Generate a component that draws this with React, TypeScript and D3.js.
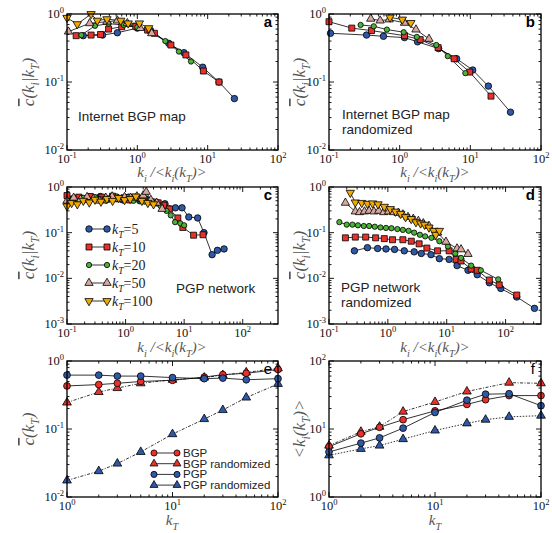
import React from "react";
import * as d3 from "d3";

// ---------------- data ----------------
// Panel a: Internet BGP map
const aBlueX = [0.17, 0.32, 0.52, 1.0, 1.55, 2.8, 4.6, 8.5, 14.5, 24];
const aBlueY = [0.48, 0.49, 0.53, 0.62, 0.57, 0.37, 0.27, 0.165, 0.1, 0.057];
const aRedX = [0.135, 0.22, 0.3, 0.39, 0.6, 0.95, 1.4, 1.75, 3.0, 4.9, 8.7, 14.5];
const aRedY = [0.48, 0.49, 0.5, 0.6, 0.65, 0.66, 0.58, 0.52, 0.35, 0.25, 0.145, 0.1];
const aGreenX = [0.16, 0.25, 0.39, 0.64, 1.0, 1.5, 2.5, 3.9, 5.8];
const aGreenY = [0.49, 0.67, 0.72, 0.69, 0.64, 0.55, 0.4, 0.28, 0.2];
const aPinkX = [0.105, 0.21, 0.37, 0.52, 0.72, 1.1, 1.6];
const aPinkY = [0.55, 0.73, 0.77, 0.8, 0.73, 0.62, 0.52];
const aOrangeX = [0.1, 0.14, 0.22, 0.27, 0.37, 0.58, 0.74, 1.07, 1.45];
const aOrangeY = [0.88, 0.71, 1.0, 0.8, 0.84, 0.8, 0.73, 0.73, 0.62];

// Panel b: Internet BGP map randomized
const bBlueX = [0.105, 0.34, 0.59, 1.17, 1.79, 3.56, 6.4, 10.8, 18, 37];
const bBlueY = [0.52, 0.49, 0.47, 0.45, 0.39, 0.31, 0.22, 0.15, 0.087, 0.036];
const bRedX = [0.1, 0.21, 0.4, 1.17, 1.95, 3.5, 5.9, 9.8, 19.6];
const bRedY = [0.77, 0.62, 0.57, 0.48, 0.42, 0.32, 0.22, 0.14, 0.062];
const bGreenX = [0.28, 0.43, 0.66, 1.14, 1.75, 3.3, 4.8, 8.5];
const bGreenY = [0.69, 0.66, 0.59, 0.54, 0.46, 0.35, 0.24, 0.135];
const bPinkX = [0.39, 0.53, 0.71, 1.17, 1.7, 2.6];
const bPinkY = [0.85, 0.8, 0.83, 0.74, 0.59, 0.43];
const bOrangeX = [0.73, 1.09, 1.44];
const bOrangeY = [0.89, 0.83, 0.74];

// Panel c: PGP network
const cBlueX = [0.12, 0.15, 0.19, 0.24, 0.3, 0.37, 0.46, 0.58, 0.72, 0.9, 1.12, 1.4, 1.75, 2.2, 2.75, 3.5, 4.7, 7.1, 9.2, 12, 17, 21.8, 30, 37, 48];
const cBlueY = [0.52, 0.58, 0.55, 0.6, 0.56, 0.62, 0.55, 0.6, 0.57, 0.52, 0.6, 0.56, 0.5, 0.55, 0.48, 0.45, 0.43, 0.35, 0.35, 0.22, 0.21, 0.1, 0.033, 0.041, 0.044];
const cRedX = [0.1, 0.13, 0.16, 0.2, 0.25, 0.31, 0.39, 0.48, 0.6, 0.75, 0.94, 1.17, 1.46, 1.83, 2.3, 2.9, 3.6, 4.5, 5.6, 7.8, 9.5, 14.5, 21];
const cRedY = [0.65, 0.55, 0.6, 0.53, 0.62, 0.57, 0.6, 0.54, 0.63, 0.55, 0.58, 0.52, 0.6, 0.55, 0.5, 0.47, 0.45, 0.4, 0.33, 0.21, 0.13, 0.088, 0.09];
const cGreenX = [0.1, 0.125, 0.155, 0.19, 0.24, 0.3, 0.37, 0.46, 0.57, 0.71, 0.88, 1.1, 1.37, 1.7, 2.1, 2.6, 3.2, 4.0, 5.0, 5.9, 7.0, 8.6, 10];
const cGreenY = [0.45, 0.55, 0.5, 0.58, 0.52, 0.6, 0.54, 0.5, 0.57, 0.62, 0.55, 0.6, 0.5, 0.56, 0.48, 0.52, 0.45, 0.38, 0.3, 0.24, 0.17, 0.16, 0.145];
const cPinkX = [0.1, 0.13, 0.17, 0.22, 0.28, 0.36, 0.46, 0.59, 0.75, 0.96, 1.22, 1.56, 2.0, 2.25, 2.7, 3.4, 4.2];
const cPinkY = [0.5, 0.58, 0.53, 0.6, 0.55, 0.5, 0.58, 0.62, 0.55, 0.6, 0.58, 0.62, 0.65, 0.78, 0.52, 0.45, 0.33];
const cOrangeX = [0.1, 0.12, 0.15, 0.19, 0.24, 0.3, 0.38, 0.48, 0.6, 0.76, 0.96, 1.2, 1.5, 1.9, 2.4, 3.0];
const cOrangeY = [0.38, 0.45, 0.42, 0.5, 0.46, 0.53, 0.48, 0.55, 0.5, 0.58, 0.52, 0.55, 0.62, 0.5, 0.45, 0.42];

// Panel d: PGP network randomized
const dOrangeX = [0.23, 0.28, 0.36, 0.45, 0.55, 0.68, 0.87, 1.1, 1.35, 1.65, 2.0, 2.5, 3.0, 3.6, 4.2, 5.0, 6.0, 6.5, 7.5];
const dOrangeY = [0.75, 0.46, 0.45, 0.43, 0.44, 0.42, 0.37, 0.33, 0.29, 0.26, 0.22, 0.2, 0.17, 0.16, 0.15, 0.13, 0.11, 0.09, 0.11];
const dPinkX = [0.19, 0.28, 0.33, 0.4, 0.48, 0.58, 0.7, 0.85, 1.03, 1.25, 1.5, 1.8, 2.2, 2.7, 3.3, 4.0, 5.0, 7.0, 9.7, 15, 17.5, 23];
const dPinkY = [0.45, 0.29, 0.28, 0.29, 0.3, 0.29, 0.3, 0.28, 0.29, 0.28, 0.27, 0.25, 0.22, 0.2, 0.18, 0.16, 0.14, 0.1, 0.063, 0.045, 0.043, 0.034];
const dGreenX = [0.15, 0.2, 0.25, 0.31, 0.39, 0.48, 0.6, 0.75, 0.93, 1.15, 1.45, 1.8, 2.25, 2.8, 3.5, 4.3, 5.5, 7.5, 10.5, 14, 17.5, 26, 38, 75];
const dGreenY = [0.17, 0.15, 0.15, 0.145, 0.14, 0.14, 0.135, 0.13, 0.127, 0.125, 0.12, 0.115, 0.11, 0.1, 0.09, 0.083, 0.077, 0.065, 0.05, 0.035, 0.028, 0.019, 0.015, 0.0095];
const dRedX = [0.19, 0.28, 0.42, 0.62, 0.87, 1.2, 1.8, 2.5, 3.4, 4.6, 7, 11, 14.5, 17.5, 26, 33, 53, 78, 155];
const dRedY = [0.077, 0.08, 0.08, 0.077, 0.074, 0.07, 0.07, 0.065, 0.057, 0.046, 0.04, 0.04, 0.026, 0.024, 0.016, 0.015, 0.0092, 0.0072, 0.0043];
const dBlueX = [0.27, 0.45, 0.67, 0.93, 1.3, 1.9, 2.8, 3.7, 5.4, 7.5, 11, 15, 23, 33, 53, 83, 155, 310];
const dBlueY = [0.04, 0.047, 0.045, 0.044, 0.043, 0.04, 0.038, 0.035, 0.033, 0.027, 0.026, 0.019, 0.015, 0.012, 0.008, 0.006, 0.0039, 0.0022];

// Panels e, f: vs k_T
const kT = [1, 2, 3, 5, 10, 20, 30, 50, 100];
const kTb = [1, 2, 3, 5, 10, 20, 50, 100];
const eBGP = [0.43, 0.45, 0.47, 0.5, 0.52, 0.58, 0.63, 0.66, 0.75];
const eBGPrand = [0.245, 0.35, 0.4, 0.47, 0.53, 0.57, 0.62, 0.68, 0.78];
const ePGP = [0.62, 0.62, 0.6, 0.6, 0.57, 0.55, 0.56, 0.53, 0.55];
const ePGPrand = [0.0175, 0.024, 0.031, 0.046, 0.084, 0.14, 0.19, 0.29, 0.46];
const fBGP = [5.5, 8.5, 10.6, 13.7, 18.5, 23, 27, 31, 31];
const fBGPrand = [5.7, 9.1, 10.8, 18, 25, 35.6, 48, 47];
const fPGP = [4.6, 6.2, 7.4, 10.3, 17.5, 26.5, 32.5, 33, 22];
const fPGPrand = [4.1, 5.1, 5.7, 7.1, 9.5, 12.1, 13.7, 15.1, 15.7];

const legendKT = ["5", "10", "20", "50", "100"];
const legendE = ["BGP", "BGP randomized", "PGP", "PGP randomized"];

// ---------------- styles ----------------
const BLUE = "#2f58a6";
const RED = "#e8312b";
const GREEN = "#4cb238";
const PINK = "#d8a8a0";
const ORANGE = "#f2a900";
const SERIF = "'Liberation Serif', 'DejaVu Serif', serif";
const SANS = "'Liberation Sans', Arial, sans-serif";
const LABEL = "#555";

type Mk = "circle" | "square" | "small" | "up" | "down";
type Series = { x: number[]; y: number[]; mk: Mk; color: string; dash?: string };

const kSeries = (bx: number[], by: number[], rx: number[], ry: number[], gx: number[], gy: number[], px: number[], py: number[], ox: number[], oy: number[]): Series[] => [
  { x: bx, y: by, mk: "circle", color: BLUE },
  { x: rx, y: ry, mk: "square", color: RED },
  { x: gx, y: gy, mk: "small", color: GREEN },
  { x: px, y: py, mk: "up", color: PINK },
  { x: ox, y: oy, mk: "down", color: ORANGE },
];

function markerPath(mk: Mk, scale = 1) {
  const s = scale;
  switch (mk) {
    case "circle": return d3.symbol().type(d3.symbolCircle).size(33 * s)()!;
    case "square": return d3.symbol().type(d3.symbolSquare).size(36 * s)()!;
    case "small": return d3.symbol().type(d3.symbolCircle).size(22 * s)()!;
    case "up": return d3.symbol().type(d3.symbolTriangle).size(30 * s)()!;
    case "down": return d3.symbol().type(d3.symbolTriangle).size(30 * s)()!;
  }
}

function Marker({ x, y, mk, color, scale = 1 }: { x: number; y: number; mk: Mk; color: string; scale?: number }) {
  const rot = mk === "down" ? " rotate(180)" : "";
  return <path d={markerPath(mk, scale)} transform={`translate(${x},${y})${rot}`} fill={color} stroke="#000" strokeWidth={0.8} />;
}

function Pow({ x, y, e, anchor }: { x: number; y: number; e: number; anchor: string }) {
  return (
    <text x={x} y={y} textAnchor={anchor} fontFamily={SERIF} fontSize={12.5} fill="#111">
      10<tspan fontSize={8.5} dy={-5}>{String(e)}</tspan>
    </text>
  );
}

type PanelCfg = {
  x0: number; x1: number; y0: number; y1: number;
  xd: [number, number]; yd: [number, number];
  series: Series[]; letter: string; letterBold: boolean; mscale?: number;
};

function logTicks(lo: number, hi: number) {
  const major: number[] = [];
  const minor: number[] = [];
  const a = Math.floor(Math.log10(lo) + 1e-9);
  const b = Math.ceil(Math.log10(hi) - 1e-9);
  for (let k = a; k <= b; k++) {
    const p = Math.pow(10, k);
    if (p >= lo * 0.999 && p <= hi * 1.001) major.push(p);
    for (let m = 2; m <= 9; m++) {
      const v = m * p;
      if (v > lo * 1.001 && v < hi * 0.999) minor.push(v);
    }
  }
  return { major, minor };
}

function Panel({ cfg }: { cfg: PanelCfg }) {
  const { x0, x1, y0, y1, xd, yd, series, letter, letterBold, mscale = 1 } = cfg;
  const xs = d3.scaleLog().domain(xd).range([x0, x1]);
  const ys = d3.scaleLog().domain(yd).range([y1, y0]);
  const xt = logTicks(xd[0], xd[1]);
  const yt = logTicks(yd[0], yd[1]);
  const M = 5, m = 2.5;
  const ticks: JSX.Element[] = [];
  xt.major.forEach((v, i) => {
    const X = xs(v);
    ticks.push(<line key={`xM${i}`} x1={X} x2={X} y1={y1} y2={y1 - M} />);
    ticks.push(<line key={`xMt${i}`} x1={X} x2={X} y1={y0} y2={y0 + M} />);
  });
  xt.minor.forEach((v, i) => {
    const X = xs(v);
    ticks.push(<line key={`xm${i}`} x1={X} x2={X} y1={y1} y2={y1 - m} />);
    ticks.push(<line key={`xmt${i}`} x1={X} x2={X} y1={y0} y2={y0 + m} />);
  });
  yt.major.forEach((v, i) => {
    const Y = ys(v);
    ticks.push(<line key={`yM${i}`} x1={x0} x2={x0 + M} y1={Y} y2={Y} />);
    ticks.push(<line key={`yMr${i}`} x1={x1} x2={x1 - M} y1={Y} y2={Y} />);
  });
  yt.minor.forEach((v, i) => {
    const Y = ys(v);
    ticks.push(<line key={`ym${i}`} x1={x0} x2={x0 + m} y1={Y} y2={Y} />);
    ticks.push(<line key={`ymr${i}`} x1={x1} x2={x1 - m} y1={Y} y2={Y} />);
  });
  const line = d3.line<[number, number]>().x((d) => xs(d[0])).y((d) => ys(d[1]));
  return (
    <g>
      <g stroke="#000" strokeWidth={0.9}>{ticks}</g>
      {series.map((s, i) => (
        <path key={`l${i}`} d={line(s.x.map((v, j) => [v, s.y[j]] as [number, number]))!} fill="none" stroke="#000" strokeWidth={0.8} strokeDasharray={s.dash} />
      ))}
      {series.map((s, i) => (
        <g key={`m${i}`}>
          {s.x.map((v, j) => (
            <Marker key={j} x={xs(v)} y={ys(s.y[j])} mk={s.mk} color={s.color} scale={mscale} />
          ))}
        </g>
      ))}
      <rect x={x0} y={y0} width={x1 - x0} height={y1 - y0} fill="none" stroke="#000" strokeWidth={1.3} />
      {xt.major.map((v, i) => (
        <Pow key={`xl${i}`} x={xs(v)} y={y1 + 13} e={Math.round(Math.log10(v))} anchor="middle" />
      ))}
      {yt.major.map((v, i) => (
        <Pow key={`yl${i}`} x={x0 - 3} y={ys(v) + 4} e={Math.round(Math.log10(v))} anchor="end" />
      ))}
      <text x={x1 - 6} y={y0 + 13} textAnchor="end" fontFamily={SANS} fontWeight={letterBold ? "bold" : "normal"} fontSize={15} fill="#000">{letter}</text>
    </g>
  );
}

// text with subscripts: segments [text, isSub, overline?]
type Seg = [string, boolean, boolean?];
function SubText({ x, y, segs, size, anchor = "middle", color = LABEL, rotate }: { x: number; y: number; segs: Seg[]; size: number; anchor?: string; color?: string; rotate?: number }) {
  let prevSub = false;
  const tr = rotate ? `rotate(${rotate},${x},${y})` : undefined;
  return (
    <text x={x} y={y} textAnchor={anchor} fontFamily={SERIF} fontStyle="italic" fontSize={size} fill={color} transform={tr}>
      {segs.map(([t, sub, over], i) => {
        const dy = sub && !prevSub ? size * 0.3 : !sub && prevSub ? -size * 0.3 : 0;
        prevSub = sub;
        return (
          <tspan key={i} dy={dy} fontSize={sub ? size * 0.68 : size} style={over ? { textDecoration: "overline" } : undefined}>{t}</tspan>
        );
      })}
    </text>
  );
}

const cLabel: Seg[] = [["c", false, true], ["(k", false], ["i", true], ["|k", false], ["T", true], [")", false]];
const xLabel: Seg[] = [["k", false], ["i", true], [" /<k", false], ["i", true], ["(k", false], ["T", true], [")>", false]];
const kTLabel: Seg[] = [["k", false], ["T", true]];
const ceLabel: Seg[] = [["c", false, true], ["(k", false], ["T", true], [")", false]];
const kfLabel: Seg[] = [["<k", false], ["i", true], ["(k", false], ["T", true], [")>", false]];

export default function App() {
  const L = [67, 278];
  const R = [329, 541];
  const r1 = [14, 150];
  const r2 = [187, 324];
  const r3 = [361, 497];

  const panels: PanelCfg[] = [
    { x0: L[0], x1: L[1], y0: r1[0], y1: r1[1], xd: [0.1, 100], yd: [0.01, 1], letter: "a", letterBold: true,
      series: kSeries(aBlueX, aBlueY, aRedX, aRedY, aGreenX, aGreenY, aPinkX, aPinkY, aOrangeX, aOrangeY) },
    { x0: R[0], x1: R[1], y0: r1[0], y1: r1[1], xd: [0.1, 100], yd: [0.01, 1], letter: "b", letterBold: true,
      series: kSeries(bBlueX, bBlueY, bRedX, bRedY, bGreenX, bGreenY, bPinkX, bPinkY, bOrangeX, bOrangeY) },
    { x0: L[0], x1: L[1], y0: r2[0], y1: r2[1], xd: [0.1, 400], yd: [0.001, 1], letter: "c", letterBold: true,
      series: kSeries(cBlueX, cBlueY, cRedX, cRedY, cGreenX, cGreenY, cPinkX, cPinkY, cOrangeX, cOrangeY) },
    { x0: R[0], x1: R[1], y0: r2[0], y1: r2[1], xd: [0.1, 400], yd: [0.001, 1], letter: "d", letterBold: true,
      series: kSeries(dBlueX, dBlueY, dRedX, dRedY, dGreenX, dGreenY, dPinkX, dPinkY, dOrangeX, dOrangeY) },
    { x0: L[0], x1: L[1], y0: r3[0], y1: r3[1], xd: [1, 100], yd: [0.01, 1], letter: "e", letterBold: false, mscale: 1.1,
      series: [
        { x: kT, y: ePGPrand, mk: "up", color: BLUE, dash: "3,1.5,1,1.5" },
        { x: kT, y: eBGPrand, mk: "up", color: RED, dash: "3,1.5,1,1.5" },
        { x: kT, y: eBGP, mk: "circle", color: RED },
        { x: kT, y: ePGP, mk: "circle", color: BLUE },
      ] },
    { x0: R[0], x1: R[1], y0: r3[0], y1: r3[1], xd: [1, 100], yd: [1, 100], letter: "f", letterBold: false, mscale: 1.1,
      series: [
        { x: kT, y: fPGPrand, mk: "up", color: BLUE, dash: "1.5,1.5" },
        { x: kTb, y: fBGPrand, mk: "up", color: RED, dash: "3,1.5,1,1.5" },
        { x: kT, y: fBGP, mk: "circle", color: RED },
        { x: kT, y: fPGP, mk: "circle", color: BLUE },
      ] },
  ];

  const legMk: Mk[] = ["circle", "square", "small", "up", "down"];
  const legCol = [BLUE, RED, GREEN, PINK, ORANGE];
  const eMk: Mk[] = ["circle", "up", "circle", "up"];
  const eCol = [RED, RED, BLUE, BLUE];

  return (
    <svg width={552} height={533} style={{ position: "absolute", left: 0, top: 0, background: "#fff" }}>
      <rect x={0} y={0} width={552} height={533} fill="#fff" />
      {panels.map((p, i) => <Panel key={i} cfg={p} />)}

      {/* annotations */}
      <g fontFamily={SANS} fontSize={13.5} fill="#222">
        <text x={78} y={121}>Internet BGP map</text>
        <text x={342} y={119}>Internet BGP map</text>
        <text x={342} y={134}>randomized</text>
        <text x={176} y={293}>PGP network</text>
        <text x={341} y={292}>PGP network</text>
        <text x={341} y={307}>randomized</text>
      </g>

      {/* legend c */}
      {legendKT.map((t, i) => {
        const y = 229 + i * 18;
        return (
          <g key={`lc${i}`}>
            <line x1={89} x2={107} y1={y} y2={y} stroke="#000" strokeWidth={0.8} />
            <Marker x={89} y={y} mk={legMk[i]} color={legCol[i]} />
            <Marker x={107} y={y} mk={legMk[i]} color={legCol[i]} />
            <text x={112} y={y + 5} fontFamily={SERIF} fontSize={14} fill="#222">
              <tspan fontStyle="italic">k</tspan>
              <tspan fontStyle="italic" fontSize={9.5} dy={4}>T</tspan>
              <tspan dy={-4}>={t}</tspan>
            </text>
          </g>
        );
      })}

      {/* legend e */}
      {legendE.map((t, i) => {
        const y = 453 + i * 10.7;
        return (
          <g key={`le${i}`}>
            <line x1={154} x2={177} y1={y} y2={y} stroke="#000" strokeWidth={0.8} />
            <Marker x={154} y={y} mk={eMk[i]} color={eCol[i]} scale={0.9} />
            <Marker x={177} y={y} mk={eMk[i]} color={eCol[i]} scale={0.9} />
            <text x={183} y={y + 4} fontFamily={SANS} fontSize={11.5} fill="#222">{t}</text>
          </g>
        );
      })}

      {/* axis labels */}
      <SubText x={172} y={177} segs={xLabel} size={15} />
      <SubText x={435} y={177} segs={xLabel} size={15} />
      <SubText x={172} y={352} segs={xLabel} size={15} />
      <SubText x={435} y={352} segs={xLabel} size={15} />
      <SubText x={172} y={525} segs={kTLabel} size={15} />
      <SubText x={435} y={525} segs={kTLabel} size={15} />

      <SubText x={34} y={82} segs={cLabel} size={17} rotate={-90} />
      <SubText x={305} y={82} segs={cLabel} size={17} rotate={-90} />
      <SubText x={34} y={255} segs={cLabel} size={17} rotate={-90} />
      <SubText x={305} y={255} segs={cLabel} size={17} rotate={-90} />
      <SubText x={34} y={429} segs={ceLabel} size={17} rotate={-90} />
      <SubText x={305} y={429} segs={kfLabel} size={17} rotate={-90} />
    </svg>
  );
}
